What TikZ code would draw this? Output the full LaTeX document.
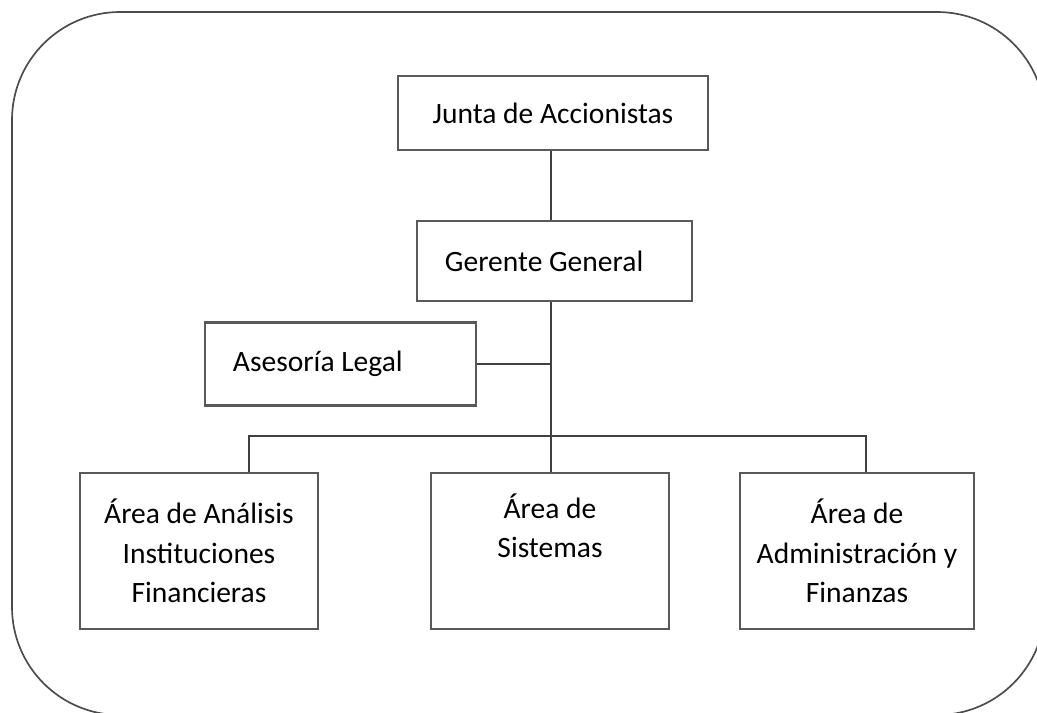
\documentclass[tikz,border=0pt]{standalone}
\usepackage{fontspec}
\setmainfont{Carlito}
\usepackage{tikz}
\usetikzlibrary{positioning}

\tikzset{
  box/.style={draw=black!65, line width=1.6pt, inner sep=0pt, align=center,
    font=\fontsize{21}{28}\selectfont},
  lbox/.style={box, align=flush left, inner xsep=0.7cm},
  link/.style={draw=black!75, line width=1.2pt}
}

\begin{document}
\begin{tikzpicture}[x=0.025cm, y=-0.025cm]
	\useasboundingbox (0.00, 0.00) rectangle (1037.00, 712.00);
	\draw[black!70, line width=1.2pt, rounded corners=2.7cm] (12.00, 12.00) rectangle (1045.00, 715.00);

	\node[box, minimum width=7.75cm, minimum height=1.85cm] (junta) at (553.00, 113.00) {Junta de Accionistas};
	\node[lbox, text width=5.475cm, minimum height=2.00cm] (gerente) at (554.50, 261.00) {Gerente General};
	\node[lbox, text width=5.375cm, minimum height=2.075cm] (asesoria) at (340.50, 364.00) {Asesoría Legal};

	\node[box, minimum width=5.95cm, minimum height=3.90cm] (analisis) at (199.00, 551.00) {Área de Análisis\\Instituciones\\Financieras};
	\node[box, minimum width=5.95cm, minimum height=3.90cm] (sistemas) at (550.00, 551.00) {Área de\\Sistemas\\\strut};
	\node[box, minimum width=5.85cm, minimum height=3.90cm] (admin) at (857.00, 551.00) {Área de\\Administración y\\Finanzas};

	\coordinate (trunk) at (551.00, 364.00);
	\coordinate (busL) at (249.00, 436.00);
	\coordinate (busR) at (866.00, 436.00);

	\draw[link] (trunk |- junta.south) -- (trunk |- gerente.north);
	\draw[link] (trunk |- gerente.south) -- (trunk |- sistemas.north);
	\draw[link] (asesoria.east) -- (trunk);
	\draw[link] (busL |- analisis.north) -- (busL) -- (busR) -- (busR |- admin.north);
\end{tikzpicture}
\end{document}
